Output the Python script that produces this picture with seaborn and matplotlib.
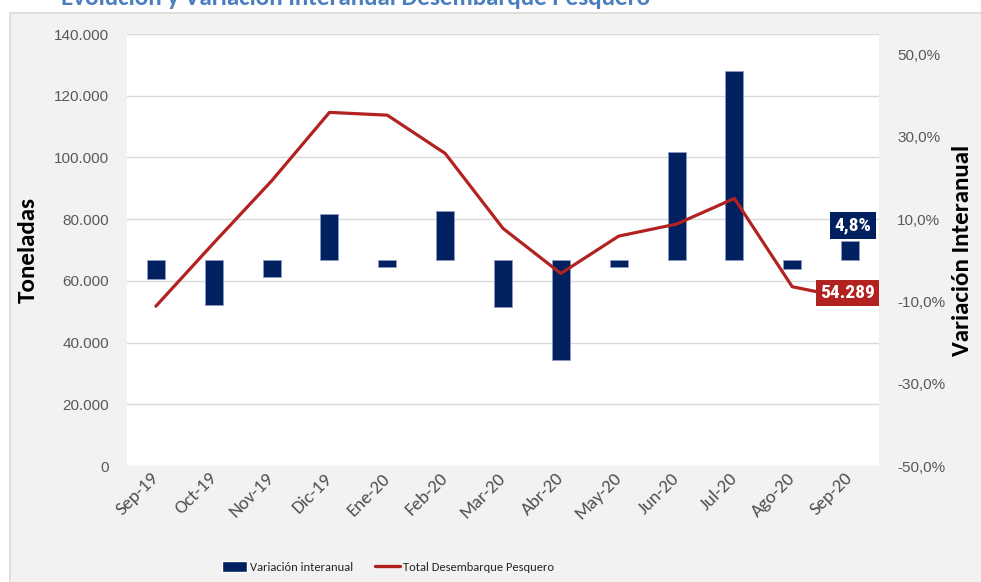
import numpy as np
import matplotlib
matplotlib.use('Agg')
import matplotlib.pyplot as plt
import matplotlib.ticker as mtick
from matplotlib.patches import Rectangle
import seaborn as sns

meses = ['Sep-19', 'Oct-19', 'Nov-19', 'Dic-19', 'Ene-20', 'Feb-20', 'Mar-20',
         'Abr-20', 'May-20', 'Jun-20', 'Jul-20', 'Ago-20', 'Sep-20']
# toneladas
total = [51800, 72300, 92400, 114600, 113700, 101300, 77000,
         62400, 74500, 78400, 86700, 58100, 54289]
# variacion interanual en %
variacion = [-4.6, -10.9, -4.0, 11.3, -1.6, 11.9, -11.4,
             -24.2, -1.6, 26.2, 45.9, -2.2, 4.8]

azul = '#002060'
rojo = '#b22220'
gris = '#595959'
calibri = ['Carlito', 'Calibri', 'Lato', 'DejaVu Sans']
narrow = ['Liberation Sans Narrow', 'Arial Narrow', 'Roboto Condensed', 'PT Sans Narrow',
          'Archivo Narrow', 'Carlito', 'Lato', 'DejaVu Sans']

sns.set_style('white')
plt.rcParams['font.family'] = ['Liberation Sans', 'DejaVu Sans']

fig = plt.figure(figsize=(9.81, 5.82), dpi=100, facecolor='white')
fig.patches.append(Rectangle((10 / 981, -0.01), 1, 1 - 13 / 582 + 0.01,
                             transform=fig.transFigure, facecolor='#f2f2f2',
                             edgecolor='#d9d9d9', lw=1.2, zorder=-10))
fig.text(356 / 981, 1 - 5 / 582, 'Evolución y Variación Interanual Desembarque Pesquero',
         ha='center', va='baseline', fontsize=18, fontweight='bold',
         color='#4a7ebf', family=calibri)

ax = fig.add_axes([127 / 981, 1 - 466 / 582, 752 / 981, 432 / 582])
ax.set_facecolor('white')
ax2 = ax.twinx()  # barras, eje derecho
ax3 = ax.twinx()  # linea, escala izquierda

sns.barplot(x=meses, y=variacion, ax=ax2, color=azul, saturation=1, width=0.31,
            edgecolor='#8e9cc4', linewidth=0.6)
sns.lineplot(x=np.arange(len(meses)), y=total, ax=ax3, color=rojo, linewidth=2.3)

# eje izquierdo
ax.set_ylim(0, 140000)
ax.set_yticks(np.arange(0, 140001, 20000))
ax.yaxis.set_major_formatter(mtick.FuncFormatter(lambda v, p: f'{int(v):,}'.replace(',', '.')))
ax.yaxis.grid(True, color='#d9d9d9', lw=1)
ax.set_axisbelow(True)
ax.tick_params(axis='y', length=0, pad=13, labelsize=11, labelcolor=gris)
ax.set_ylabel('Toneladas', fontsize=18, fontweight='bold', family=calibri, color='black')
ax.yaxis.set_label_coords(-0.118, 0.5)

ax3.set_ylim(0, 140000)
ax3.set_yticks([])
ax3.set_ylabel('')

# eje derecho
ax2.set_ylim(-50, 55)
ax2.set_yticks(np.arange(-50, 51, 20))
ax2.yaxis.set_major_formatter(mtick.FuncFormatter(lambda v, p: f'{v:.1f}%'.replace('.', ',')))
ax2.tick_params(axis='y', length=0, pad=13, labelsize=11, labelcolor=gris)
ax2.set_ylabel('Variación Interanual', fontsize=18, fontweight='bold', family=calibri, color='black')
ax2.yaxis.set_label_coords(1.097, 0.5)

# eje x
ax.set_xlim(-0.5, len(meses) - 0.5)
ax.set_xticks(np.arange(len(meses)))
ax.set_xticklabels(meses, rotation=45, ha='right', va='center', rotation_mode='anchor',
                   family=calibri, fontsize=13.5, color='#505050')
ax.tick_params(axis='x', length=0, pad=7)
ax.set_xlabel('')
for a in (ax, ax2, ax3):
    for s in a.spines.values():
        s.set_visible(False)

# etiquetas del ultimo dato
ax2.annotate(f'{variacion[-1]:.1f}%'.replace('.', ','), xy=(len(meses) - 1, variacion[-1]),
             xytext=(2, 11), textcoords='offset points', ha='center', va='center',
             color='white', fontsize=14, fontweight='bold', family=narrow,
             bbox=dict(boxstyle='square,pad=0.22', fc=azul, ec='none'))
ax3.annotate(f'{total[-1]:,}'.replace(',', '.'), xy=(len(meses) - 1, total[-1]),
             xytext=(-2, 4), textcoords='offset points', ha='center', va='center',
             color='white', fontsize=14, fontweight='bold', family=narrow,
             bbox=dict(boxstyle='square,pad=0.22', fc=rojo, ec='none'))

# leyenda
h1 = Rectangle((0, 0), 1, 1, fc=azul)
h2 = plt.Line2D([0], [0], color=rojo, lw=2.4)
fig.legend([h1, h2], ['Variación interanual', 'Total Desembarque Pesquero'],
           loc='center', bbox_to_anchor=(388 / 981, 1 - 567 / 582), ncol=2, frameon=False,
           prop={'family': calibri, 'size': 9},
           handlelength=2.0, handleheight=0.9, handletextpad=0.25, columnspacing=1.8)

fig.savefig('out.png', dpi=100, facecolor=fig.get_facecolor())
